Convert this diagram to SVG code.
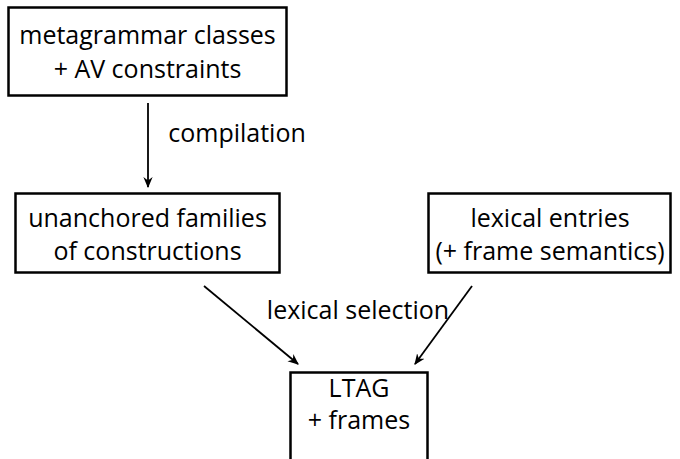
<svg xmlns="http://www.w3.org/2000/svg" width="680" height="459" viewBox="0 0 680 459">
  <style>
    .box { fill: #ffffff; stroke: #000000; stroke-width: 2.5; }
    .lbl { font-family: "Open Sans", Lato, "Noto Sans", sans-serif; font-size: 25px; fill: #000000; text-anchor: middle; }
    .edge { stroke: #000000; stroke-width: 1.8; fill: none; marker-end: url(#arrow); }
  </style>
  <defs>
    <marker id="arrow" viewBox="0 0 10 10" refX="9" refY="5" markerWidth="11" markerHeight="11" markerUnits="userSpaceOnUse" orient="auto">
      <path d="M0,0.8 L10,5 L0,9.2 L3,5 Z" fill="#000000"/>
    </marker>
  </defs>
  <rect width="680" height="459" fill="#ffffff"/>

  <g id="connectors">
    <line class="edge" x1="148" y1="103" x2="148" y2="187"/>
    <text class="lbl" x="237" y="142">compilation</text>
    <line class="edge" x1="204" y1="286" x2="298" y2="364"/>
    <line class="edge" x1="472" y1="286" x2="415" y2="364"/>
    <text class="lbl" x="358" y="319">lexical selection</text>
  </g>

  <g id="metagrammar">
    <rect class="box" x="8.5" y="7.5" width="278" height="88"/>
    <text class="lbl" x="147.5" y="44">metagrammar classes</text>
    <text class="lbl" x="147.5" y="78">+ AV constraints</text>
  </g>

  <g id="families">
    <rect class="box" x="15.5" y="193.5" width="264" height="79"/>
    <text class="lbl" x="147.5" y="227">unanchored families</text>
    <text class="lbl" x="147.5" y="260">of constructions</text>
  </g>

  <g id="lexicon">
    <rect class="box" x="428.5" y="193.5" width="242" height="79"/>
    <text class="lbl" x="550" y="227">lexical entries</text>
    <text class="lbl" x="550" y="260">(+ frame semantics)</text>
  </g>

  <g id="ltag">
    <rect class="box" x="290.5" y="372.5" width="137" height="100"/>
    <text class="lbl" x="359" y="397">LTAG</text>
    <text class="lbl" x="359" y="429">+ frames</text>
  </g>
</svg>
